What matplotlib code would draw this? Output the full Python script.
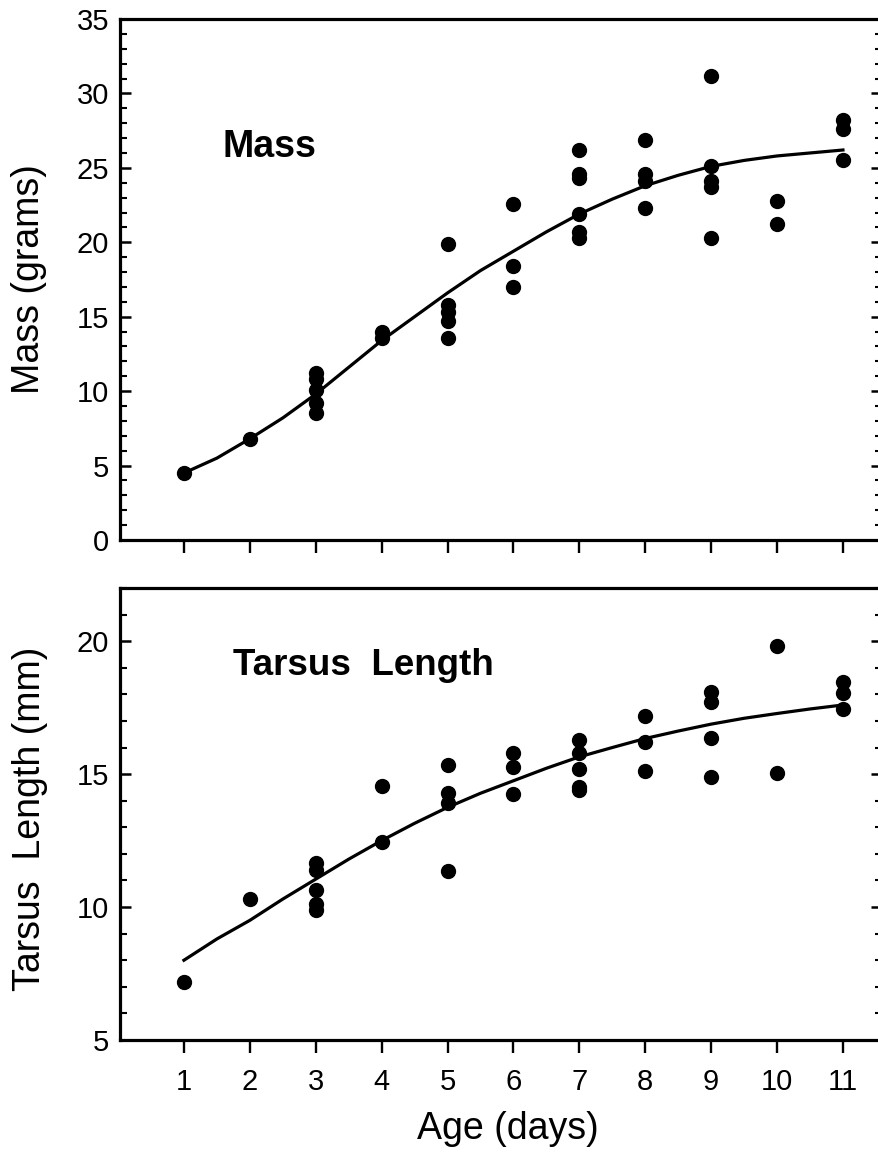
import matplotlib
matplotlib.use("Agg")
import matplotlib.pyplot as plt
from matplotlib.ticker import MultipleLocator

plt.rcParams['font.family'] = ['Liberation Sans', 'DejaVu Sans']

# ---- Data: Mass (grams) ----
mass_day = [1, 2, 3, 3, 3, 3, 3, 4, 4, 5, 5, 5, 5, 5,
            6, 6, 6, 7, 7, 7, 7, 7, 7, 8, 8, 8, 8,
            9, 9, 9, 9, 9, 10, 10, 11, 11, 11]
mass_val = [4.5, 6.8, 11.2, 10.8, 10.1, 9.2, 8.5, 14.0, 13.6, 19.9, 15.8, 15.3, 14.7, 13.6,
            22.6, 18.4, 17.0, 26.2, 24.6, 24.3, 21.9, 20.7, 20.3, 26.9, 24.6, 24.1, 22.3,
            31.2, 25.1, 24.1, 23.7, 20.3, 22.8, 21.2, 28.2, 27.6, 25.5]

curve_day = [1, 1.5, 2, 2.5, 3, 3.5, 4, 4.5, 5, 5.5, 6, 6.5, 7, 7.5, 8, 8.5, 9, 9.5, 10, 10.5, 11]
mass_curve = [4.5, 5.5, 6.8, 8.2, 9.8, 11.6, 13.4, 15.0, 16.6, 18.1, 19.4, 20.7, 21.9, 22.9,
              23.8, 24.5, 25.1, 25.5, 25.8, 26.0, 26.2]

# ---- Data: Tarsus length (mm) ----
tars_day = [1, 2, 3, 3, 3, 3, 3, 4, 4, 5, 5, 5, 5,
            6, 6, 6, 7, 7, 7, 7, 7, 8, 8, 8,
            9, 9, 9, 9, 10, 10, 11, 11, 11]
tars_val = [7.2, 10.3, 11.65, 11.4, 10.65, 10.1, 9.9, 14.55, 12.45, 15.35, 14.3, 13.9, 11.35,
            15.8, 15.25, 14.25, 16.3, 15.8, 15.2, 14.5, 14.4, 17.2, 16.2, 15.1,
            18.1, 17.7, 16.35, 14.9, 19.8, 15.05, 18.45, 18.05, 17.45]
tars_curve = [8.0, 8.8, 9.5, 10.3, 11.05, 11.8, 12.5, 13.15, 13.75, 14.28, 14.75, 15.22, 15.65,
              16.0, 16.34, 16.62, 16.88, 17.1, 17.28, 17.45, 17.6]

days = list(range(1, 12))

fig = plt.figure(figsize=(8.79, 11.57), dpi=100)
W, H = 879, 1157
left_px, right_px = 120, 882.5
ax1 = fig.add_axes([left_px / W, (H - 540) / H, (right_px - left_px) / W, (540 - 19) / H])
ax2 = fig.add_axes([left_px / W, (H - 1040) / H, (right_px - left_px) / W, (1040 - 588) / H])

for ax in (ax1, ax2):
    for s in ax.spines.values():
        s.set_linewidth(2.3)
    ax.set_xlim(0.03, 11.6)
    ax.set_xticks(days)
    ax.tick_params(axis='x', direction='out', length=9.5, width=1.7, labelsize=21, pad=11)
    ax.tick_params(axis='y', which='major', direction='in', length=8, width=1.8,
                   labelsize=21, left=True, right=True, pad=8)
    ax.tick_params(axis='y', which='minor', direction='in', length=5, width=1.5,
                   left=True, right=True)
    ax.tick_params(axis='x', top=False)

# Top panel
ax1.plot(curve_day, mass_curve, color='black', lw=2.3, zorder=2)
ax1.plot(mass_day, mass_val, 'o', color='black', ms=10, zorder=3)
ax1.set_ylim(0, 35)
ax1.yaxis.set_major_locator(MultipleLocator(5))
ax1.yaxis.set_minor_locator(MultipleLocator(1))
ax1.tick_params(axis='x', labelbottom=False)
ax1.set_ylabel('Mass (grams)', fontsize=27)
ax1.yaxis.set_label_coords(-0.096, 0.5)
ax1.text(1.578, 25.75, 'Mass', fontsize=27, fontweight='bold', va='baseline', ha='left')

# Bottom panel
ax2.plot(curve_day, tars_curve, color='black', lw=2.3, zorder=2)
ax2.plot(tars_day, tars_val, 'o', color='black', ms=10, zorder=3)
ax2.set_ylim(5, 22)
ax2.set_yticks([5, 10, 15, 20])
ax2.yaxis.set_minor_locator(MultipleLocator(1))
ax2.set_ylabel('Tarsus  Length (mm)', fontsize=27)
ax2.yaxis.set_label_coords(-0.094, 0.49)
ax2.set_xlabel('Age (days)', fontsize=27)
ax2.xaxis.set_label_coords(0.509, -0.158)
ax2.text(1.745, 18.72, 'Tarsus  Length', fontsize=26.5, fontweight='bold', va='baseline', ha='left')

fig.savefig('out.png', dpi=100)
